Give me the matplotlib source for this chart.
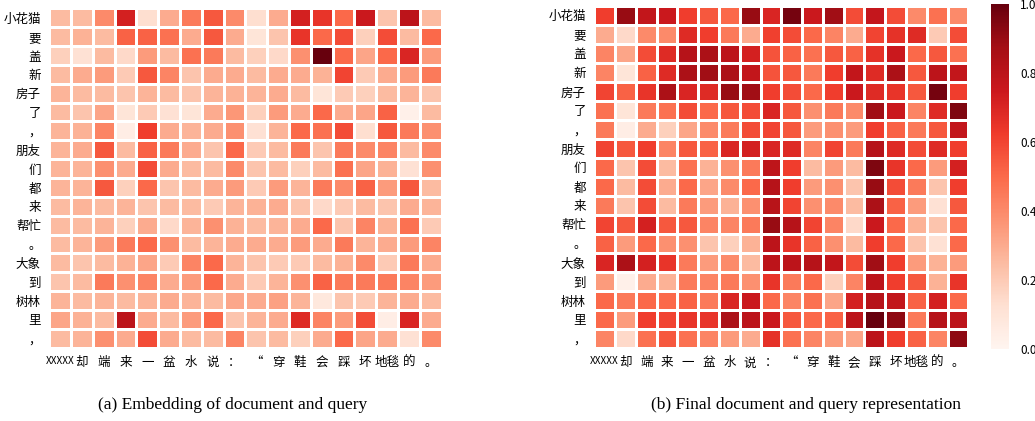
import matplotlib
matplotlib.use("Agg")
import matplotlib.pyplot as plt
import numpy as np

plt.rcParams["font.family"] = ["Noto Sans CJK SC", "DejaVu Sans"]

doc_tokens = ["小花猫", "要", "盖", "新", "房子", "了", "，", "朋友", "们", "都",
              "来", "帮忙", "。", "大象", "到", "树林", "里", "，"]
query_tokens = ["XXXXX", "却", "端", "来", "一", "盆", "水", "说", "：", "“",
                "穿", "鞋", "会", "踩", "坏", "地毯", "的", "。"]

# (a) embedding similarity, rows = document tokens, cols = query tokens
embedding = [
    [0.25, 0.25, 0.40, 0.72, 0.13, 0.30, 0.45, 0.55, 0.40, 0.13, 0.30, 0.72, 0.65, 0.50, 0.75, 0.22, 0.80, 0.25],
    [0.25, 0.28, 0.25, 0.52, 0.52, 0.48, 0.30, 0.55, 0.30, 0.10, 0.22, 0.65, 0.50, 0.58, 0.18, 0.58, 0.25, 0.50],
    [0.18, 0.12, 0.25, 0.15, 0.35, 0.25, 0.48, 0.45, 0.25, 0.18, 0.15, 0.38, 1.00, 0.50, 0.32, 0.50, 0.70, 0.35],
    [0.25, 0.30, 0.35, 0.20, 0.55, 0.42, 0.22, 0.30, 0.30, 0.25, 0.30, 0.30, 0.28, 0.60, 0.20, 0.30, 0.35, 0.45],
    [0.27, 0.25, 0.25, 0.22, 0.27, 0.25, 0.22, 0.27, 0.28, 0.27, 0.30, 0.25, 0.10, 0.20, 0.18, 0.25, 0.27, 0.22],
    [0.25, 0.22, 0.32, 0.10, 0.20, 0.12, 0.10, 0.30, 0.36, 0.18, 0.35, 0.30, 0.50, 0.30, 0.32, 0.52, 0.03, 0.25],
    [0.27, 0.28, 0.42, 0.05, 0.62, 0.30, 0.27, 0.30, 0.38, 0.12, 0.27, 0.50, 0.48, 0.58, 0.13, 0.55, 0.45, 0.38],
    [0.27, 0.30, 0.55, 0.25, 0.52, 0.45, 0.30, 0.22, 0.50, 0.20, 0.25, 0.45, 0.22, 0.45, 0.40, 0.42, 0.25, 0.40],
    [0.27, 0.27, 0.38, 0.30, 0.58, 0.30, 0.25, 0.25, 0.40, 0.22, 0.25, 0.18, 0.25, 0.48, 0.32, 0.28, 0.12, 0.38],
    [0.27, 0.27, 0.55, 0.18, 0.50, 0.22, 0.25, 0.30, 0.35, 0.20, 0.35, 0.27, 0.45, 0.40, 0.52, 0.35, 0.55, 0.25],
    [0.25, 0.27, 0.25, 0.27, 0.22, 0.25, 0.25, 0.20, 0.27, 0.28, 0.30, 0.22, 0.15, 0.20, 0.25, 0.22, 0.30, 0.27],
    [0.25, 0.25, 0.27, 0.18, 0.30, 0.15, 0.27, 0.38, 0.28, 0.25, 0.27, 0.30, 0.50, 0.22, 0.42, 0.28, 0.48, 0.20],
    [0.25, 0.27, 0.35, 0.45, 0.50, 0.38, 0.25, 0.27, 0.30, 0.30, 0.30, 0.35, 0.30, 0.45, 0.27, 0.30, 0.35, 0.42],
    [0.25, 0.22, 0.25, 0.28, 0.32, 0.20, 0.42, 0.50, 0.27, 0.22, 0.20, 0.20, 0.25, 0.28, 0.40, 0.20, 0.45, 0.30],
    [0.22, 0.25, 0.45, 0.38, 0.42, 0.30, 0.35, 0.50, 0.30, 0.20, 0.27, 0.38, 0.52, 0.45, 0.45, 0.45, 0.42, 0.35],
    [0.27, 0.25, 0.27, 0.25, 0.27, 0.30, 0.27, 0.25, 0.31, 0.30, 0.33, 0.27, 0.08, 0.22, 0.20, 0.27, 0.30, 0.25],
    [0.32, 0.28, 0.25, 0.80, 0.30, 0.25, 0.35, 0.50, 0.22, 0.27, 0.30, 0.68, 0.42, 0.35, 0.58, 0.05, 0.70, 0.30],
    [0.25, 0.27, 0.38, 0.30, 0.58, 0.30, 0.25, 0.25, 0.42, 0.22, 0.25, 0.18, 0.30, 0.50, 0.32, 0.30, 0.12, 0.40],
]

# (b) final representation similarity
final_repr = [
    [0.62, 0.90, 0.78, 0.75, 0.62, 0.55, 0.50, 0.90, 0.70, 0.97, 0.75, 0.88, 0.58, 0.77, 0.58, 0.40, 0.48, 0.40],
    [0.30, 0.15, 0.40, 0.40, 0.68, 0.62, 0.45, 0.30, 0.61, 0.58, 0.50, 0.42, 0.30, 0.60, 0.66, 0.68, 0.20, 0.58],
    [0.42, 0.32, 0.58, 0.68, 0.82, 0.85, 0.80, 0.72, 0.56, 0.52, 0.48, 0.55, 0.52, 0.66, 0.75, 0.50, 0.55, 0.48],
    [0.42, 0.10, 0.52, 0.68, 0.85, 0.88, 0.85, 0.78, 0.56, 0.55, 0.45, 0.62, 0.78, 0.68, 0.85, 0.55, 0.80, 0.78],
    [0.60, 0.52, 0.65, 0.85, 0.70, 0.68, 0.90, 0.88, 0.62, 0.58, 0.50, 0.62, 0.75, 0.68, 0.65, 0.55, 0.97, 0.62],
    [0.48, 0.10, 0.45, 0.48, 0.58, 0.50, 0.55, 0.58, 0.70, 0.55, 0.38, 0.45, 0.40, 0.88, 0.75, 0.42, 0.68, 0.95],
    [0.45, 0.05, 0.30, 0.18, 0.32, 0.40, 0.45, 0.58, 0.60, 0.55, 0.35, 0.38, 0.35, 0.62, 0.52, 0.45, 0.55, 0.78],
    [0.60, 0.55, 0.62, 0.42, 0.55, 0.52, 0.70, 0.72, 0.70, 0.68, 0.42, 0.60, 0.45, 0.82, 0.68, 0.58, 0.68, 0.62],
    [0.50, 0.22, 0.58, 0.25, 0.48, 0.28, 0.38, 0.45, 0.79, 0.62, 0.25, 0.35, 0.25, 0.95, 0.65, 0.50, 0.35, 0.72],
    [0.50, 0.25, 0.58, 0.30, 0.50, 0.32, 0.40, 0.50, 0.82, 0.62, 0.35, 0.38, 0.22, 0.90, 0.58, 0.45, 0.22, 0.62],
    [0.45, 0.22, 0.58, 0.25, 0.45, 0.35, 0.28, 0.38, 0.81, 0.60, 0.38, 0.40, 0.25, 0.85, 0.52, 0.35, 0.12, 0.55],
    [0.60, 0.55, 0.72, 0.55, 0.55, 0.42, 0.42, 0.45, 0.90, 0.82, 0.60, 0.42, 0.15, 0.75, 0.50, 0.28, 0.22, 0.50],
    [0.52, 0.35, 0.50, 0.38, 0.38, 0.22, 0.18, 0.28, 0.80, 0.65, 0.52, 0.38, 0.25, 0.62, 0.50, 0.22, 0.12, 0.50],
    [0.70, 0.85, 0.72, 0.65, 0.45, 0.35, 0.40, 0.25, 0.80, 0.80, 0.82, 0.78, 0.58, 0.88, 0.62, 0.35, 0.28, 0.35],
    [0.35, 0.03, 0.30, 0.28, 0.45, 0.42, 0.45, 0.38, 0.65, 0.45, 0.50, 0.18, 0.42, 0.80, 0.62, 0.55, 0.28, 0.65],
    [0.50, 0.45, 0.50, 0.50, 0.52, 0.45, 0.70, 0.75, 0.50, 0.42, 0.48, 0.32, 0.72, 0.82, 0.78, 0.52, 0.72, 0.50],
    [0.50, 0.35, 0.62, 0.60, 0.65, 0.65, 0.85, 0.80, 0.75, 0.55, 0.50, 0.52, 0.80, 1.00, 0.92, 0.45, 0.82, 0.80],
    [0.42, 0.15, 0.48, 0.55, 0.48, 0.42, 0.35, 0.30, 0.66, 0.48, 0.42, 0.35, 0.32, 0.80, 0.62, 0.52, 0.42, 0.92],
]

captions = ["(a) Embedding of document and query",
            "(b) Final document and query representation"]
cbar_ticks = [0.0, 0.2, 0.4, 0.6, 0.8, 1.0]


def draw_heatmap(ax, values):
    data = np.array(values)
    mesh = ax.pcolormesh(data, cmap="Reds", vmin=0, vmax=1,
                         edgecolors="white", linewidth=1.0)
    ax.set_xlim(0, data.shape[1])
    ax.set_ylim(data.shape[0], 0)
    ax.set_xticks(np.arange(data.shape[1]) + 0.5)
    ax.set_xticklabels(query_tokens, fontsize=9)
    ax.set_yticks(np.arange(data.shape[0]) + 0.5)
    ax.set_yticklabels(doc_tokens, fontsize=9)
    ax.tick_params(length=0, pad=6)
    # the placeholder token is latin, keep it narrow like the source figure
    ax.get_xticklabels()[0].set_fontsize(7.2)
    for spine in ax.spines.values():
        spine.set_visible(False)
    return mesh


fig = plt.figure(figsize=(10.35, 4.21), dpi=100)
ax_a = fig.add_axes([0.0476, 0.1741, 0.3791, 0.806])
ax_b = fig.add_axes([0.5742, 0.1734, 0.3614, 0.8124])
cax = fig.add_axes([0.9575, 0.1710, 0.0174, 0.8195])

draw_heatmap(ax_a, embedding)
mesh = draw_heatmap(ax_b, final_repr)

cbar = fig.colorbar(mesh, cax=cax, ticks=cbar_ticks)
cbar.outline.set_visible(False)
cbar.ax.set_yticklabels([f"{t:.1f}" for t in cbar_ticks], fontsize=8.5)
cbar.ax.tick_params(length=0, pad=8)

fig.text(0.225, 0.038, captions[0], ha="center", va="center",
         family="Liberation Serif", fontsize=12.5)
fig.text(0.779, 0.038, captions[1], ha="center", va="center",
         family="Liberation Serif", fontsize=12.5)

fig.savefig("out.png", dpi=100)
